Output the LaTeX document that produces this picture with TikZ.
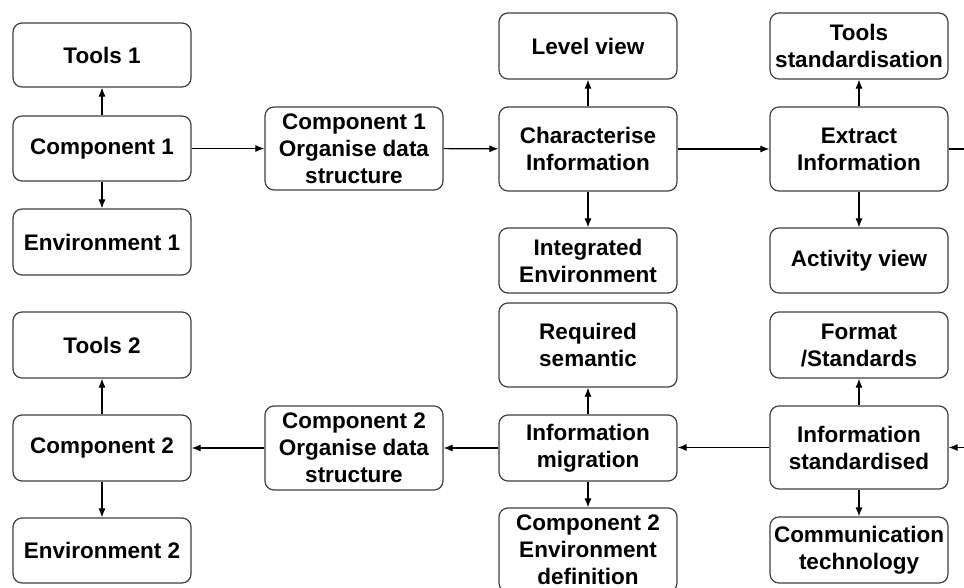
\documentclass[tikz,border=0pt]{standalone}
\usepackage{fontspec}
\setmainfont{Liberation Sans}
\usetikzlibrary{arrows.meta}
\begin{document}
\begin{tikzpicture}[x=1pt,y=-1pt,
  box/.style={draw=black!75,line width=1.2pt,rounded corners=9pt,fill=white,
    minimum width=178pt,align=center,inner sep=0pt,
    font=\fontsize{22.5}{27}\selectfont\bfseries},
  arr/.style={-{Latex[length=9pt,width=7pt]},line width=1.1pt,black},
  ln/.style={line width=1.1pt,black}]
\useasboundingbox (0,0) rectangle (964,588);
\clip (0,0) rectangle (964,588);
\fill[white] (0,0) rectangle (964,588);
% column 1
\node[box,minimum height=64pt] (tools1) at (102,55) {Tools 1};
\node[box,minimum height=65pt] (comp1) at (102,148.5) {Component 1};
\node[box,minimum height=66pt] (env1) at (102,242) {Environment 1};
\node[box,minimum height=66pt] (tools2) at (102,345) {Tools 2};
\node[box,minimum height=66pt] (comp2) at (102,448) {Component 2};
\node[box,minimum height=65pt] (env2) at (102,550.5) {Environment 2};
% column 2
\node[box,minimum height=83pt] (c1org) at (354,148.5) {Component 1\\Organise data\\structure};
\node[box,minimum height=84pt] (c2org) at (354,448) {Component 2\\Organise data\\structure};
% column 3
\node[box,minimum height=66pt] (level) at (588,46) {Level view};
\node[box,minimum height=84pt] (charac) at (588,149) {Characterise\\Information};
\node[box,minimum height=65pt] (integ) at (588,260.5) {Integrated\\Environment};
\node[box,minimum height=84pt] (reqsem) at (588,345) {Required\\semantic};
\node[box,minimum height=66pt] (infomig) at (588,448) {Information\\migration};
\node[box,minimum height=84pt] (c2env) at (588,550) {Component 2\\Environment\\definition};
% column 4
\node[box,minimum height=66pt] (toolsstd) at (859,46) {Tools\\standardisation};
\node[box,minimum height=84pt] (extract) at (859,149) {Extract\\Information};
\node[box,minimum height=65pt] (activity) at (859,260.5) {Activity view};
\node[box,minimum height=66pt] (format) at (859,345) {Format\\/Standards};
\node[box,minimum height=83pt] (infostd) at (859,447.5) {Information\\standardised};
\node[box,minimum height=66pt] (comm) at (859,550) {Communication\\technology};
\coordinate (outR) at (970,149);
\coordinate (inR) at (970,447.5);
% connectors
\draw[arr] (comp1) -- (tools1);
\draw[arr] (comp1) -- (env1);
\draw[arr] (comp1) -- (c1org);
\draw[arr] (c1org) -- (charac);
\draw[arr] (charac) -- (level);
\draw[arr] (charac) -- (integ);
\draw[arr] (charac) -- (extract);
\draw[arr] (extract) -- (toolsstd);
\draw[arr] (extract) -- (activity);
\draw[ln] (extract.east) -- (outR);
\draw[arr] (inR) -- (infostd.east);
\draw[arr] (infostd) -- (format);
\draw[arr] (infostd) -- (comm);
\draw[arr] (infostd.west) -- (infomig.east |- infostd.west);
\draw[arr] (infomig) -- (reqsem);
\draw[arr] (infomig) -- (c2env);
\draw[arr] (infomig) -- (c2org);
\draw[arr] (c2org) -- (comp2);
\draw[arr] (comp2) -- (tools2);
\draw[arr] (comp2) -- (env2);
\end{tikzpicture}
\end{document}
